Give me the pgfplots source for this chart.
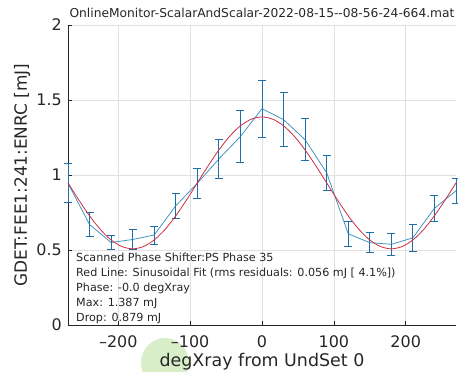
\documentclass[border=0pt]{standalone}
\usepackage{pgfplots}
\pgfplotsset{compat=1.18}
\usepackage{fontspec}
\setmainfont{DejaVu Sans}

\definecolor{fitred}{rgb}{0.80,0.18,0.24}
\definecolor{dataline}{rgb}{0.28,0.58,0.74}
\definecolor{databar}{rgb}{0.12,0.43,0.66}
\definecolor{blob}{RGB}{216,238,200}
\definecolor{axgray}{rgb}{0.15,0.15,0.15}

\pgfplotstableread{
x     y      e
-270  0.945  0.13
-240  0.670  0.080
-210  0.550  0.045
-180  0.570  0.067
-150  0.600  0.060
-120  0.795  0.085
-90   0.945  0.100
-60   1.107  0.130
-30   1.257  0.172
0     1.442  0.190
30    1.369  0.180
60    1.235  0.140
90    1.015  0.115
120   0.608  0.081
150   0.549  0.067
180   0.538  0.075
210   0.581  0.088
240   0.778  0.089
270   0.895  0.083
}\scandata

\pgfplotstableread{
x     y
-270  0.9475
-255  0.834
-240  0.728
-225  0.637
-210  0.567
-195  0.523
-180  0.508
-165  0.523
-150  0.567
-135  0.637
-120  0.728
-105  0.834
-90   0.9475
-75   1.061
-60   1.167
-45   1.258
-30   1.328
-15   1.372
0     1.387
15    1.372
30    1.328
45    1.258
60    1.167
75    1.061
90    0.9475
105   0.834
120   0.728
135   0.637
150   0.567
165   0.523
180   0.508
195   0.523
210   0.567
225   0.637
240   0.728
255   0.834
270   0.9475
}\fitdata

\begin{document}
\begin{tikzpicture}
\fill[blob] (97bp,-38bp) ellipse (24bp and 25bp);
\begin{axis}[
  at={(0,0)}, anchor=south west,
  scale only axis, width=388bp, height=300bp,
  xmin=-270, xmax=270, ymin=0, ymax=2,
  clip=false,
  axis lines*=left,
  axis line style={axgray, line width=0.6bp},
  xtick={-200,-100,0,100,200},
  xticklabels={–200,–100,0,100,200},
  ytick={0,0.5,1,1.5,2},
  yticklabels={0,0.5,1,1.5,2},
  tick align=inside, major tick length=4bp,
  tick style={axgray, line width=0.6bp},
  grid=major, grid style={black!12, line width=0.5bp},
  ticklabel style={font=\fontsize{16}{16}\selectfont, text=axgray},
  xticklabel style={anchor=base, inner sep=0pt, yshift=-22bp},
  yticklabel style={anchor=east, inner sep=0pt, xshift=-6bp},
]
\addplot[color=dataline, line width=0.8bp,
  error bars/.cd, y dir=both, y explicit,
  error bar style={databar, line width=0.9bp},
  error mark=-,
  error mark options={databar, line width=0.9bp, mark size=4bp, rotate=90}]
  table[x=x, y=y, y error=e] {\scandata};
\addplot[color=fitred, line width=0.8bp, smooth] table[x=x, y=y] {\fitdata};

\node[anchor=base, yshift=7bp, font=\fontsize{12.3}{13}\selectfont, text=axgray]
  at (rel axis cs:0.5,1) {OnlineMonitor-ScalarAndScalar-2022-08-15{-}{-}08-56-24-664.mat};
\node[anchor=base, yshift=-41.5bp, font=\fontsize{17.5}{18}\selectfont, text=axgray]
  at (rel axis cs:0.5,0) {degXray from UndSet 0};
\node[xshift=-41bp, anchor=base, rotate=90, font=\fontsize{17}{18}\selectfont, text=axgray]
  at (rel axis cs:0,0.5) {GDET:FEE1:241:ENRC [mJ]};

\node[anchor=base west, xshift=8bp, yshift=64bp, inner sep=0pt, font=\fontsize{11.2}{12}\selectfont, text=axgray]
  at (rel axis cs:0,0) {Scanned Phase Shifter:PS Phase 35};
\node[anchor=base west, xshift=8bp, yshift=49bp, inner sep=0pt, font=\fontsize{11.2}{12}\selectfont, text=axgray]
  at (rel axis cs:0,0) {Red Line: Sinusoidal Fit (rms residuals: 0.056 mJ [ 4.1\%])};
\node[anchor=base west, xshift=8bp, yshift=34bp, inner sep=0pt, font=\fontsize{11.2}{12}\selectfont, text=axgray]
  at (rel axis cs:0,0) {Phase: -0.0 degXray};
\node[anchor=base west, xshift=8bp, yshift=19bp, inner sep=0pt, font=\fontsize{11.2}{12}\selectfont, text=axgray]
  at (rel axis cs:0,0) {Max: 1.387 mJ};
\node[anchor=base west, xshift=8bp, yshift=4bp, inner sep=0pt, font=\fontsize{11.2}{12}\selectfont, text=axgray]
  at (rel axis cs:0,0) {Drop: 0.879 mJ};
\end{axis}
\pgfresetboundingbox
\path[use as bounding box] (-68bp,-47bp) rectangle (390bp,325bp);
\end{tikzpicture}
\end{document}
